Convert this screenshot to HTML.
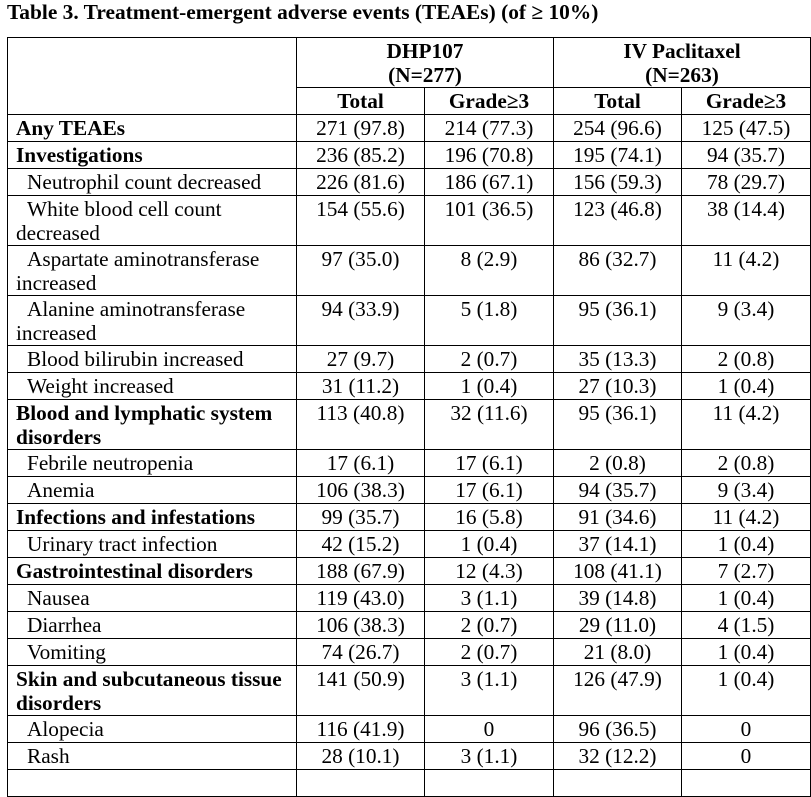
<!DOCTYPE html>
<html><head><meta charset="utf-8"><style>
html,body{margin:0;padding:0;background:#fff;width:811px;height:777px;overflow:hidden}
body{font-family:"Liberation Serif",serif;color:#000;font-size:21px}
.t{position:absolute;left:7px;top:0px;font-weight:bold;font-size:21.4px;white-space:nowrap}
table{position:absolute;left:7px;top:37px;border-collapse:collapse;table-layout:fixed;width:803px;font-size:21.3px}
td{border:1.3px solid #000;padding:0;line-height:24px;vertical-align:top;text-align:center;overflow:hidden;box-sizing:border-box}
td.l{text-align:left;padding-left:8px}
td.i{text-align:left;padding-left:8px;text-indent:11px}
b{font-weight:bold}
tr.h1 td{height:50px;padding-top:1px}
tr.s td{height:27px;padding-top:1px}
tr.d td{height:50px;padding-top:1px}
</style></head><body>
<div class="t">Table 3. Treatment-emergent adverse events (TEAEs) (of ≥ 10%)</div>
<table>
<colgroup><col style="width:289px"><col style="width:128px"><col style="width:129px"><col style="width:128px"><col style="width:129px"></colgroup>
<tr class="h1"><td rowspan="2"></td><td colspan="2"><b>DHP107<br>(N=277)</b></td><td colspan="2"><b>IV Paclitaxel<br>(N=263)</b></td></tr>
<tr class="s"><td><b>Total</b></td><td><b>Grade≥3</b></td><td><b>Total</b></td><td><b>Grade≥3</b></td></tr>
<tr class="s"><td class="l"><b>Any TEAEs</b></td><td>271 (97.8)</td><td>214 (77.3)</td><td>254 (96.6)</td><td>125 (47.5)</td></tr>
<tr class="s"><td class="l"><b>Investigations</b></td><td>236 (85.2)</td><td>196 (70.8)</td><td>195 (74.1)</td><td>94 (35.7)</td></tr>
<tr class="s"><td class="i">Neutrophil count decreased</td><td>226 (81.6)</td><td>186 (67.1)</td><td>156 (59.3)</td><td>78 (29.7)</td></tr>
<tr class="d"><td class="i">White blood cell count decreased</td><td>154 (55.6)</td><td>101 (36.5)</td><td>123 (46.8)</td><td>38 (14.4)</td></tr>
<tr class="d"><td class="i">Aspartate aminotransferase increased</td><td>97 (35.0)</td><td>8 (2.9)</td><td>86 (32.7)</td><td>11 (4.2)</td></tr>
<tr class="d"><td class="i">Alanine aminotransferase increased</td><td>94 (33.9)</td><td>5 (1.8)</td><td>95 (36.1)</td><td>9 (3.4)</td></tr>
<tr class="s"><td class="i">Blood bilirubin increased</td><td>27 (9.7)</td><td>2 (0.7)</td><td>35 (13.3)</td><td>2 (0.8)</td></tr>
<tr class="s"><td class="i">Weight increased</td><td>31 (11.2)</td><td>1 (0.4)</td><td>27 (10.3)</td><td>1 (0.4)</td></tr>
<tr class="d"><td class="l"><b>Blood and lymphatic system disorders</b></td><td>113 (40.8)</td><td>32 (11.6)</td><td>95 (36.1)</td><td>11 (4.2)</td></tr>
<tr class="s"><td class="i">Febrile neutropenia</td><td>17 (6.1)</td><td>17 (6.1)</td><td>2 (0.8)</td><td>2 (0.8)</td></tr>
<tr class="s"><td class="i">Anemia</td><td>106 (38.3)</td><td>17 (6.1)</td><td>94 (35.7)</td><td>9 (3.4)</td></tr>
<tr class="s"><td class="l"><b>Infections and infestations</b></td><td>99 (35.7)</td><td>16 (5.8)</td><td>91 (34.6)</td><td>11 (4.2)</td></tr>
<tr class="s"><td class="i">Urinary tract infection</td><td>42 (15.2)</td><td>1 (0.4)</td><td>37 (14.1)</td><td>1 (0.4)</td></tr>
<tr class="s"><td class="l"><b>Gastrointestinal disorders</b></td><td>188 (67.9)</td><td>12 (4.3)</td><td>108 (41.1)</td><td>7 (2.7)</td></tr>
<tr class="s"><td class="i">Nausea</td><td>119 (43.0)</td><td>3 (1.1)</td><td>39 (14.8)</td><td>1 (0.4)</td></tr>
<tr class="s"><td class="i">Diarrhea</td><td>106 (38.3)</td><td>2 (0.7)</td><td>29 (11.0)</td><td>4 (1.5)</td></tr>
<tr class="s"><td class="i">Vomiting</td><td>74 (26.7)</td><td>2 (0.7)</td><td>21 (8.0)</td><td>1 (0.4)</td></tr>
<tr class="d"><td class="l"><b>Skin and subcutaneous tissue disorders</b></td><td>141 (50.9)</td><td>3 (1.1)</td><td>126 (47.9)</td><td>1 (0.4)</td></tr>
<tr class="s"><td class="i">Alopecia</td><td>116 (41.9)</td><td>0</td><td>96 (36.5)</td><td>0</td></tr>
<tr class="s"><td class="i">Rash</td><td>28 (10.1)</td><td>3 (1.1)</td><td>32 (12.2)</td><td>0</td></tr>
<tr class="s"><td class="i">&nbsp;</td><td></td><td></td><td></td><td></td></tr>
</table>
</body></html>
